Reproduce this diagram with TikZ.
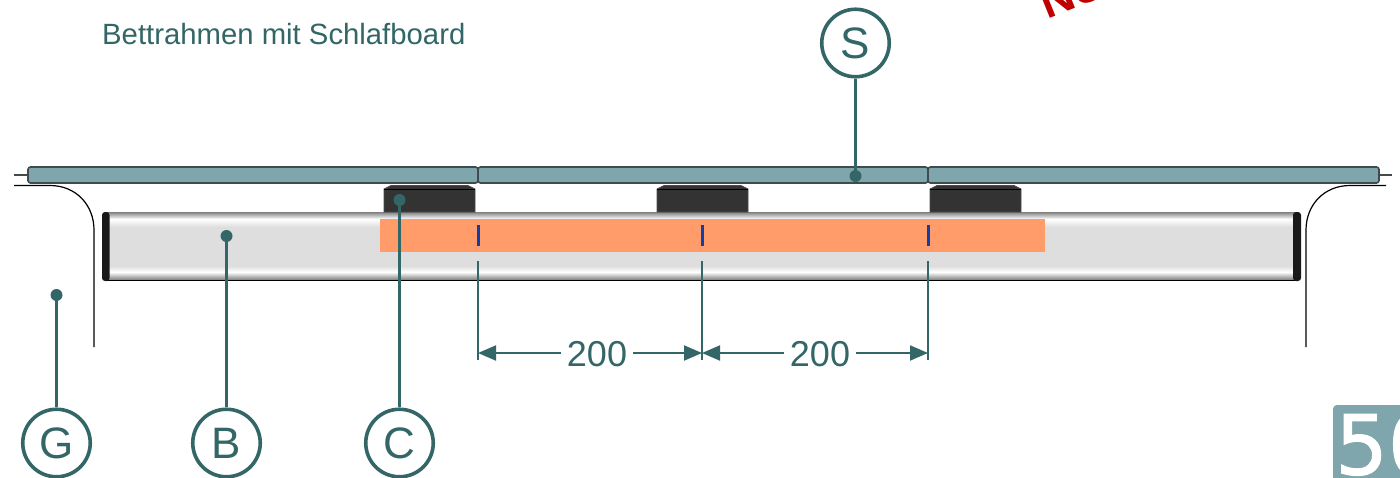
\documentclass[tikz,border=0pt]{standalone}
\usepackage{fontspec}
\setmainfont{Liberation Sans}
\newfontfamily\tilefont[FakeBold=1.2]{DejaVu Sans}
\usetikzlibrary{arrows.meta}
\definecolor{teal1}{HTML}{336666}
\definecolor{slat}{HTML}{7FA6AC}
\definecolor{slatedge}{HTML}{3F4B4D}
\definecolor{orange1}{HTML}{FF9C6A}
\definecolor{barfill}{HTML}{DEDEDE}
\definecolor{block}{HTML}{333333}
\definecolor{redtxt}{HTML}{C00000}
\definecolor{tick}{HTML}{0F3FA8}
\tikzset{
 x=1pt,y=-1pt,
 slatbox/.style={draw=slatedge,fill=slat,line width=1.6pt,rounded corners=2.5pt},
 frameline/.style={draw=black,line width=1.2pt},
 blockshape/.style={fill=block,draw=black!70,line width=0.8pt},
 bubble/.style={circle,draw=teal1,line width=3.6pt,fill=white,minimum size=67.5pt,inner sep=0pt,text=teal1,font=\fontsize{44}{44}\selectfont},
 leader/.style={draw=teal1,line width=2.2pt},
 dotnode/.style={circle,fill=teal1,minimum size=12pt,inner sep=0pt},
 dimline/.style={draw=teal1,line width=1.9pt},
 dimtext/.style={text=teal1,font=\fontsize{36}{36}\selectfont,inner sep=6pt,fill=none},
 ticknode/.style={fill=tick,minimum width=3pt,minimum height=21pt,inner sep=0pt},
}
\begin{document}
\begin{tikzpicture}
\clip (0,0) rectangle (1400,477);
\fill[white] (0,0) rectangle (1400,477);
% title and stamp
\node[anchor=west,text=teal1,inner sep=0pt,font=\fontsize{29.3}{29.3}\selectfont] (title) at (102,34) {Bettrahmen mit Schlafboard};
\node[anchor=base west,rotate=22,text=redtxt,inner sep=0pt,font=\bfseries\fontsize{46}{46}\selectfont] (stamp) at (1047,20) {NU};
% frame
\draw[frameline] (14,185.5) -- (50,185.5) .. controls (76,185.5) and (94,205) .. (94,230) -- (94,347);
\draw[frameline] (1386,185.5) -- (1350,185.5) .. controls (1324,185.5) and (1306,205) .. (1306,230) -- (1306,347);
% pins
\draw[slatedge,line width=2pt] (14,175) -- (28,175);
\draw[slatedge,line width=2pt] (1379,175) -- (1392,175);
% slats
\draw[slatbox] (28,167) rectangle (478,183);
\draw[slatbox] (478,167) rectangle (928,183);
\draw[slatbox] (928,167) rectangle (1379,183);
% bar
\fill[barfill] (106,212) rectangle (1298,280);
\shade[top color=black!50,bottom color=white] (106,212) rectangle (1298,219);
\shade[top color=white,bottom color=barfill] (106,219) rectangle (1298,227);
\shade[top color=barfill,bottom color=white] (106,266) rectangle (1298,272);
\shade[top color=white,bottom color=black!45] (106,272) rectangle (1298,279);
\draw[black,line width=0.9pt] (106,280) -- (1298,280);
\fill[black!90,rounded corners=3pt] (102,212) rectangle (109.5,281);
\fill[black!90,rounded corners=3pt] (1293,212) rectangle (1301,281);
% blocks
\foreach \xa/\xb in {384/475,657/748,930/1021}{
 \path[blockshape] (\xa,212) -- (\xa,189) -- (\xa+7,185.5) -- (\xb-7,185.5) -- (\xb,189) -- (\xb,212) -- cycle;
 \draw[black,line width=0.8pt] (\xa,189) -- (\xb,189);
}
% orange
\fill[orange1] (380,219) rectangle (1045,252);
\node[ticknode] (t1) at (478,235) {};
\node[ticknode] (t2) at (702,235) {};
\node[ticknode] (t3) at (928,235) {};
% dimension lines
\coordinate (d1) at (478,261);
\coordinate (d2) at (702,261);
\coordinate (d3) at (928,261);
\coordinate (e1) at (478,360);
\coordinate (e2) at (702,360);
\coordinate (e3) at (928,360);
\draw[dimline] (d1) -- (e1);
\draw[dimline] (d2) -- (e2);
\draw[dimline] (d3) -- (e3);
\node[dimtext] (l1) at (597,354) {200};
\node[dimtext] (l2) at (820,354) {200};
\coordinate (m1) at (478,353);
\coordinate (m2) at (702,353);
\coordinate (m3) at (928,353);
\draw[dimline,{Triangle[length=18pt,width=15pt]}-] (m1) -- (l1.west |- m1);
\draw[dimline,-{Triangle[length=18pt,width=15pt]}] (l1.east |- m1) -- (m2);
\draw[dimline,{Triangle[length=18pt,width=15pt]}-] (m2) -- (l2.west |- m2);
\draw[dimline,-{Triangle[length=18pt,width=15pt]}] (l2.east |- m2) -- (m3);
% leaders
\node[bubble] (G) at (56.5,443) {G};
\node[bubble] (B) at (226.5,443) {B};
\node[bubble] (C) at (399.5,443) {C};
\node[bubble] (S) at (855.5,43) {S};
\node[dotnode] (dG) at (56.5,295) {};
\node[dotnode] (dB) at (226.5,236) {};
\node[dotnode] (dC) at (399.5,200) {};
\node[dotnode] (dS) at (855.5,176) {};
\draw[leader] (G) -- (dG);
\draw[leader] (B) -- (dB);
\draw[leader] (C) -- (dC);
\draw[leader] (S) -- (dS);
% page tile
\fill[slat,rounded corners=4pt] (1333,405) rectangle (1420,500);
\node[anchor=base west,text=white,inner sep=0pt,font=\tilefont\fontsize{83}{83}\selectfont] (page) at (1335,474.5) {50};
\end{tikzpicture}
\end{document}
